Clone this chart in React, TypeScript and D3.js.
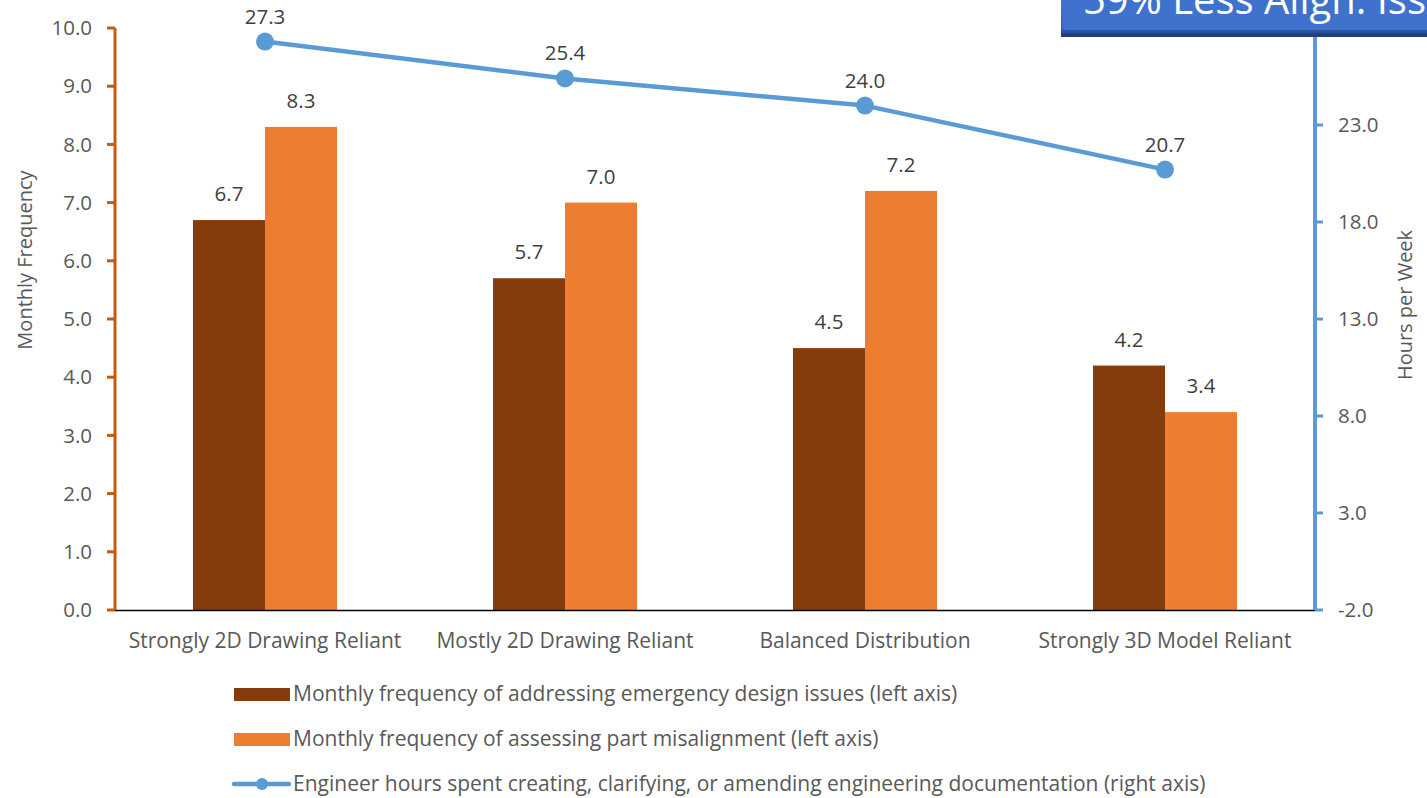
import React from "react";
import * as d3 from "d3";

const categories = [
  "Strongly 2D Drawing Reliant",
  "Mostly 2D Drawing Reliant",
  "Balanced Distribution",
  "Strongly 3D Model Reliant",
];
const emergencyIssues = [6.7, 5.7, 4.5, 4.2];
const misalignment = [8.3, 7.0, 7.2, 3.4];
const engineerHours = [27.3, 25.4, 24.0, 20.7];
const leftTicks = [0, 1, 2, 3, 4, 5, 6, 7, 8, 9, 10];
const rightTicks = [-2, 3, 8, 13, 18, 23];
const seriesNames = [
  "Monthly frequency of addressing emergency design issues (left axis)",
  "Monthly frequency of assessing part misalignment (left axis)",
  "Engineer hours spent creating, clarifying, or amending engineering documentation (right axis)",
];
const calloutText = "59% Less Align. Issues";

const W = 1427;
const H = 798;
const FONT = "'Open Sans', 'Noto Sans', sans-serif";
const C_DARK = "#843C0C";
const C_ORANGE = "#ED7D31";
const C_BLUE = "#5B9BD5";
const C_LAXIS = "#C55A11";
const C_TEXT = "#595959";
const C_LABEL = "#404040";
const FS = 20.5;
const FS_CAT = 21;

export default function App() {
  const left = 115;
  const right = 1315;
  const top = 28;
  const bottom = 610;

  const x = d3.scaleBand<string>().domain(categories).range([left, right]).paddingInner(0).paddingOuter(0);
  const yL = d3.scaleLinear().domain([0, 10]).range([bottom, top]);
  const yR = d3.scaleLinear().domain([-2, 28]).range([bottom, top]);
  const barW = 72;

  const line = d3
    .line<number>()
    .x((_, i) => x(categories[i])! + x.bandwidth() / 2)
    .y((d) => yR(d));

  return (
    <svg
      width={W}
      height={H}
      style={{ position: "absolute", left: 0, top: 0, background: "#fff" }}
      fontFamily={FONT}
    >
      <defs>
        <linearGradient id="boxg" x1="0" y1="0" x2="0" y2="1">
          <stop offset="0" stopColor="#4a7fd6" />
          <stop offset="0.85" stopColor="#3567c0" />
          <stop offset="1" stopColor="#2a4f95" />
        </linearGradient>
      </defs>

      {/* bars */}
      {categories.map((c, i) => {
        const cx = x(c)! + x.bandwidth() / 2;
        return (
          <g key={c}>
            <rect x={cx - barW} y={yL(emergencyIssues[i])} width={barW} height={yL(0) - yL(emergencyIssues[i])} fill={C_DARK} />
            <rect x={cx} y={yL(misalignment[i])} width={barW} height={yL(0) - yL(misalignment[i])} fill={C_ORANGE} />
            <text x={cx - barW / 2} y={yL(emergencyIssues[i]) - 19} textAnchor="middle" fontSize={FS} fill={C_LABEL}>
              {emergencyIssues[i].toFixed(1)}
            </text>
            <text x={cx + barW / 2} y={yL(misalignment[i]) - 19} textAnchor="middle" fontSize={FS} fill={C_LABEL}>
              {misalignment[i].toFixed(1)}
            </text>
          </g>
        );
      })}

      {/* baseline */}
      <line x1={left} x2={right} y1={bottom + 0.5} y2={bottom + 0.5} stroke="#000" strokeWidth={1.5} />

      {/* left axis */}
      <line x1={left} x2={left} y1={top} y2={bottom} stroke={C_LAXIS} strokeWidth={3} />
      {leftTicks.map((t) => (
        <g key={t}>
          <line x1={left - 8} x2={left} y1={yL(t)} y2={yL(t)} stroke={C_LAXIS} strokeWidth={3} />
          <text x={92} y={yL(t)} dy="0.35em" textAnchor="end" fontSize={FS} fill={C_TEXT}>
            {t.toFixed(1)}
          </text>
        </g>
      ))}
      <text
        transform={`translate(32, 260) rotate(-90)`}
        textAnchor="middle"
        fontSize={20}
        fill={C_TEXT}
      >
        Monthly Frequency
      </text>

      {/* right axis */}
      <line x1={right} x2={right} y1={top} y2={bottom} stroke={C_BLUE} strokeWidth={4} />
      {rightTicks.map((t) => (
        <g key={t}>
          <line x1={right} x2={right + 8} y1={yR(t)} y2={yR(t)} stroke={C_BLUE} strokeWidth={3} />
          <text x={1338} y={yR(t)} dy="0.35em" textAnchor="start" fontSize={FS} fill={C_TEXT}>
            {t.toFixed(1)}
          </text>
        </g>
      ))}
      <text
        transform={`translate(1412, 305) rotate(-90)`}
        textAnchor="middle"
        fontSize={20}
        fill={C_TEXT}
      >
        Hours per Week
      </text>

      {/* line series */}
      <path d={line(engineerHours) ?? ""} fill="none" stroke={C_BLUE} strokeWidth={4.5} strokeLinecap="round" strokeLinejoin="round" />
      {engineerHours.map((v, i) => {
        const cx = x(categories[i])! + x.bandwidth() / 2;
        return (
          <g key={i}>
            <circle cx={cx} cy={yR(v)} r={9} fill={C_BLUE} />
            <text x={cx} y={yR(v) - 18} textAnchor="middle" fontSize={FS} fill={C_LABEL}>
              {v.toFixed(1)}
            </text>
          </g>
        );
      })}

      {/* category labels */}
      {categories.map((c) => (
        <text key={c} x={x(c)! + x.bandwidth() / 2} y={648} textAnchor="middle" fontSize={FS_CAT} fill={C_TEXT}>
          {c}
        </text>
      ))}

      {/* legend */}
      <g>
        <rect x={234} y={688} width={56} height={13} fill={C_DARK} />
        <text x={293} y={694} dy="0.35em" fontSize={FS_CAT} fill={C_TEXT}>{seriesNames[0]}</text>
        <rect x={234} y={733} width={56} height={13} fill={C_ORANGE} />
        <text x={293} y={739} dy="0.35em" fontSize={FS_CAT} fill={C_TEXT}>{seriesNames[1]}</text>
        <line x1={234} x2={289} y1={784} y2={784} stroke={C_BLUE} strokeWidth={4.5} strokeLinecap="round" />
        <circle cx={262} cy={784} r={6} fill={C_BLUE} />
        <text x={293} y={784} dy="0.35em" fontSize={FS_CAT} fill={C_TEXT}>{seriesNames[2]}</text>
      </g>

      {/* callout box */}
      <g>
        <rect x={1061} y={-20} width={400} height={57} fill="#22417a" />
        <rect x={1061} y={-20} width={400} height={53} fill="url(#boxg)" />
        <rect x={1063} y={-20} width={400} height={50} fill="#3e72cc" />
        <text x={1083} y={14} fontSize={40} fill="#ffffff">
          {calloutText}
        </text>
      </g>
    </svg>
  );
}
